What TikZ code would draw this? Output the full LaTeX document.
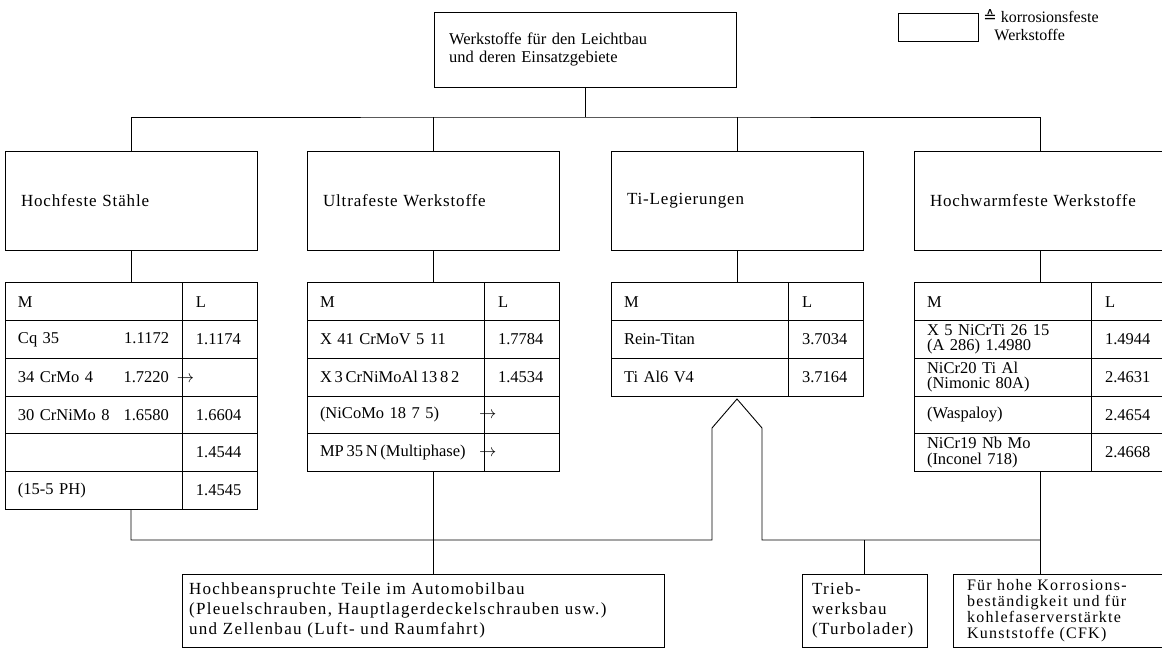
\documentclass[tikz,border=0pt]{standalone}
\usepackage{fontspec}
\setmainfont{Liberation Serif}
\newfontfamily\spacedfont{Liberation Serif}[LetterSpace=8]
\newfontfamily\groupfont{Liberation Serif}[LetterSpace=5]
\newfontfamily\symbolfont{DejaVu Sans}
\usetikzlibrary{positioning}
\newcommand\tabfont{\fontsize{16.5}{15.5}\selectfont}
\newcommand\tabarrow{\rlap{\hskip 8pt$\rightarrow$}}
\tikzset{
  head/.style={
    % The shape:
    draw,rectangle,minimum width=302pt,minimum height=75pt,
    % The text:
    text width=272pt,inner xsep=15pt,align=left,
    font=\fontsize{16.5}{18}\selectfont}}
\tikzset{
  group/.style={
    % The shape:
    draw,rectangle,minimum width=252pt,minimum height=99pt,
    % The text:
    text width=220pt,inner xsep=16pt,align=left,
    font=\groupfont\fontsize{17}{20}\selectfont}}
\tikzset{
  table/.style={
    % a matrix of cells, borders on top of each other
    matrix,inner sep=0pt,column sep=-0.9pt,row sep=-0.9pt},
  mcell/.style={
    draw,minimum height=37.7pt,text width=151pt,
    inner xsep=13pt,inner ysep=1pt,align=left,font=\tabfont},
  lcell/.style={
    draw,minimum height=37.7pt,text width=47pt,
    inner xsep=14pt,inner ysep=1pt,align=left,font=\tabfont}}
\tikzset{
  leaf/.style={
    draw,rectangle,minimum height=73pt,inner ysep=2pt,align=left,
    font=\spacedfont\fontsize{17}{20}\selectfont}}

\begin{document}
\begin{tikzpicture}[x=1pt,y=-1pt,line width=0.9pt]
	\useasboundingbox (0,0) rectangle (1162,649);
	% Title and key
	\node[head] (title) at (585,49.5) {Werkstoffe für den Leichtbau\\und deren Einsatzgebiete};
	\node[draw,minimum width=80pt,minimum height=28pt] (key) at (938,27) {};
	\node[anchor=west,align=left,inner sep=0pt,font=\fontsize{16}{18}\selectfont] (keytxt) at (983,25)
		{{\symbolfont ≙} korrosionsfeste\\\hspace*{11pt}Werkstoffe};
	% Material groups
	\node[group] (cat1) at (131,200.5) {Hochfeste Stähle};
	\node[group] (cat2) at (433,200.5) {Ultrafeste Werkstoffe};
	\node[group] (cat3) at (737,200.5) {Ti-Legierungen};
	\node[group] (cat4) at (1040,200.5) {Hochwarmfeste Werkstoffe};
	% Tables
	\matrix[table,below=31.5pt of cat1] (tab1) {
		\node[mcell] (t1m0) {M}; & \node[lcell] (t1l0) {L}; \\
		\node[mcell] (t1m1) {Cq 35\hfill 1.1172}; & \node[lcell] (t1l1) {1.1174}; \\
		\node[mcell] (t1m2) {34 CrMo 4\hfill 1.7220\tabarrow}; & \node[lcell] (t1l2) {}; \\
		\node[mcell] (t1m3) {30 CrNiMo 8\hfill 1.6580}; & \node[lcell] (t1l3) {1.6604}; \\
		\node[mcell] (t1m4) {}; & \node[lcell] (t1l4) {1.4544}; \\
		\node[mcell] (t1m5) {(15-5 PH)}; & \node[lcell] (t1l5) {1.4545}; \\
	};
	\matrix[table,below=31.5pt of cat2] (tab2) {
		\node[mcell] (t2m0) {M}; & \node[lcell] (t2l0) {L}; \\
		\node[mcell] (t2m1) {X 41 CrMoV 5 11}; & \node[lcell] (t2l1) {1.7784}; \\
		\node[mcell] (t2m2) {X\,3\,CrNiMoAl\,13\,8\,2}; & \node[lcell] (t2l2) {1.4534}; \\
		\node[mcell] (t2m3) {(NiCoMo 18 7 5)\hfill\tabarrow}; & \node[lcell] (t2l3) {}; \\
		\node[mcell] (t2m4) {MP\,35\,N\,(Multiphase)\hfill\tabarrow}; & \node[lcell] (t2l4) {}; \\
	};
	\matrix[table,below=31.5pt of cat3] (tab3) {
		\node[mcell] (t3m0) {M}; & \node[lcell] (t3l0) {L}; \\
		\node[mcell] (t3m1) {Rein-Titan}; & \node[lcell] (t3l1) {3.7034}; \\
		\node[mcell] (t3m2) {Ti Al6 V4}; & \node[lcell] (t3l2) {3.7164}; \\
	};
	\matrix[table,below=31.5pt of cat4] (tab4) {
		\node[mcell] (t4m0) {M}; & \node[lcell] (t4l0) {L}; \\
		\node[mcell] (t4m1) {X 5 NiCrTi 26 15\\(A 286) 1.4980}; & \node[lcell] (t4l1) {1.4944}; \\
		\node[mcell] (t4m2) {NiCr20 Ti Al\\(Nimonic 80A)}; & \node[lcell] (t4l2) {2.4631}; \\
		\node[mcell] (t4m3) {(Waspaloy)}; & \node[lcell] (t4l3) {2.4654}; \\
		\node[mcell] (t4m4) {NiCr19 Nb Mo\\(Inconel 718)}; & \node[lcell] (t4l4) {2.4668}; \\
	};
	% Fields of use
	\node[leaf,text width=468pt,inner xsep=7pt] (kfz) at (423,610.5)
		{Hochbeanspruchte Teile im Automobilbau\\(Pleuelschrauben, Hauptlagerdeckelschrauben usw.)\\und Zellenbau (Luft- und Raumfahrt)};
	\node[leaf,text width=105pt,inner xsep=10pt] (trieb) at (864.5,610.5)
		{Trieb-\\werksbau\\(Turbolader)};
	\node[leaf,text width=185pt,inner xsep=14pt,font=\spacedfont\fontsize{16}{16}\selectfont] (cfk) at (1059.5,610.5)
		{Für hohe Korrosions-\\beständigkeit und für\\kohlefaserverstärkte\\Kunststoffe (CFK)};
	% Upper bus
	\coordinate (bus) at (585,117);
	\draw (title) -- (bus);
	\draw (cat1) |- (bus) -| (cat4);
	\draw (cat2) -- (cat2 |- bus);
	\draw (cat3) -- (cat3 |- bus);
	% Groups to tables
	\draw (cat1) -- (tab1);
	\draw (cat2) -- (tab2);
	\draw (cat3) -- (tab3);
	\draw (cat4) -- (tab4);
	% Lower bus with the open arrow under the Ti table
	\coordinate (shaftL) at (712,540);
	\coordinate (shoulderL) at (712,428);
	\coordinate (tip) at (737,399);
	\coordinate (shoulderR) at (762,428);
	\coordinate (shaftR) at (762,540);
	\draw (tab1) |- (shaftL) -- (shoulderL) -- (tip) -- (shoulderR) -- (shaftR) -- (tab4 |- shaftR);
	\draw (tab2) -- (tab2 |- kfz.north);
	\draw (trieb) -- (trieb |- shaftR);
	\draw (tab4) -- (tab4 |- cfk.north);
\end{tikzpicture}
\end{document}
